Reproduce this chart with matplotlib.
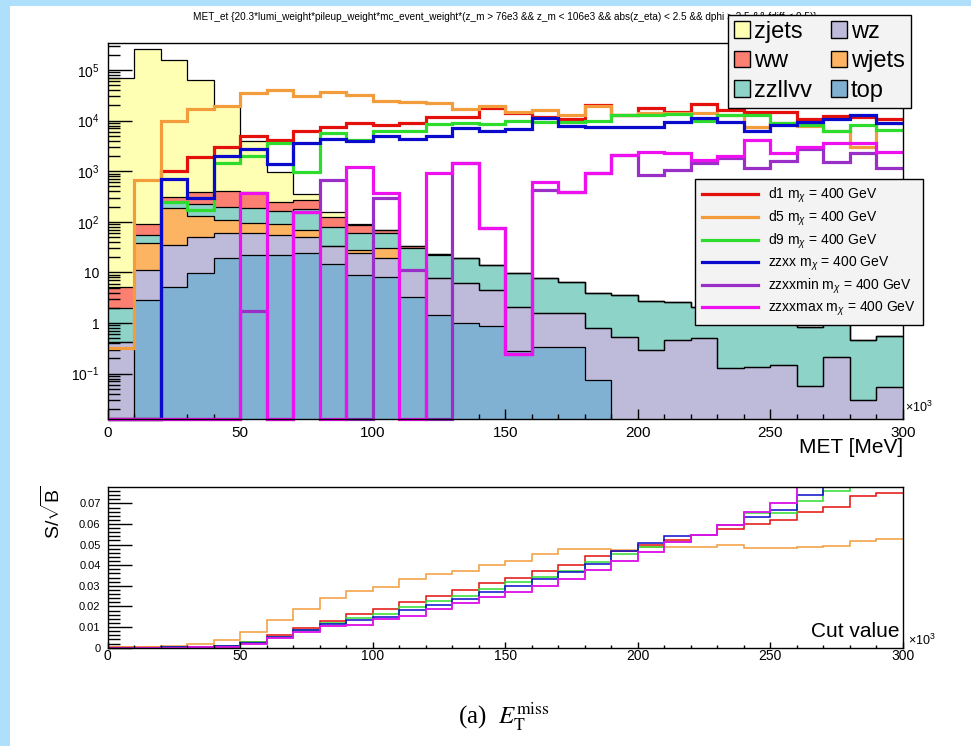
import numpy as np
import matplotlib
matplotlib.use("Agg")
import matplotlib.pyplot as plt
from matplotlib.patches import Patch, Rectangle
from matplotlib.lines import Line2D
from matplotlib.ticker import MultipleLocator, FixedLocator, NullFormatter, FuncFormatter

plt.rcParams["font.family"] = ["Liberation Sans", "DejaVu Sans"]
plt.rcParams["mathtext.fontset"] = "custom"
plt.rcParams["mathtext.rm"] = "Liberation Sans"
plt.rcParams["mathtext.it"] = "Liberation Sans:italic"
plt.rcParams["mathtext.bf"] = "Liberation Sans:bold"

# MET binning in units of 10^3 MeV
met_edges = np.arange(0, 301, 10)

# background yields per bin, stacking order from the bottom up
bkg_top = [0, 2.8, 5.2, 9.6, 19, 22, 22, 24, 15, 8.9, 8.2, 3.3, 1.44, 0.99, 0.87,
           0.28, 0.33, 0.33, 0.075, 0, 0, 0, 0, 0, 0, 0, 0, 0, 0, 0]
bkg_wz = [0.43, 8.2, 29.8, 41.4, 40, 37, 33, 27, 18, 15.1, 10.8, 7.7, 6.16, 5.1, 3.63,
          1.76, 1.22, 1.22, 0.715, 0.54, 0.30, 0.46, 0.50, 0.127, 0.137, 0.148, 0.057,
          0.21, 0.030, 0.054]
bkg_wjets = [0, 27, 150, 79, 49, 37, 35, 18, 0, 4, 11, 0, 0, 0, 0,
             0, 0, 0, 0, 0, 0, 0, 0, 0, 0, 0, 0, 0, 0, 0]
bkg_zzllvv = [1.52, 17, 65, 95, 87, 89, 70, 109, 47, 31, 29, 19, 14.4, 12.9, 9.5,
              7.86, 6.35, 4.95, 3.18, 3.03, 2.42, 2.14, 1.6, 1.37, 1.46, 1.15, 0.79,
              1.19, 0.43, 0.49]
bkg_ww = [3.25, 36, 65, 165, 215, 205, 90, 92, 42, 28, 10, 3.6, 1, 0.6, 0,
          0, 0, 0, 0, 0, 0, 0, 0, 0, 0, 0, 0, 0, 0, 0]
bkg_zjets = [70000, 260000, 160000, 62600, 18600, 3610, 730, 85, 36, 3, 0, 0, 0, 0, 0,
             0, 0, 0, 0, 0, 0, 0, 0, 0, 0, 0, 0, 0, 0, 0]

# signal yields per bin (m_chi = 400 GeV)
sig_d1 = [0, 0, 1000, 1870, 3000, 5000, 4200, 6100, 7500, 8900, 8100, 8900, 11800, 11800,
          18000, 14000, 11800, 11000, 20000, 12700, 18000, 15000, 21000, 16000, 14500,
          14500, 11000, 12500, 12000, 11000]
sig_d5 = [0.32, 670, 10000, 16700, 19400, 35000, 40000, 30000, 36000, 32000, 24500, 23600,
          22000, 16700, 19400, 15000, 16000, 12700, 19400, 12700, 14000, 14000, 14000,
          13000, 7600, 8900, 7800, 6100, 3000, 9000]
sig_d9 = [0, 0, 250, 170, 1430, 2000, 3600, 980, 5600, 4200, 6100, 6300, 8500, 9100, 8500,
          10000, 9500, 9500, 10000, 12700, 12700, 13500, 10000, 12700, 12700, 8900, 8200,
          6300, 8200, 6500]
sig_zzxx = [0, 0, 700, 300, 2000, 2700, 1370, 3600, 4400, 4000, 5000, 4300, 5000, 7300,
            6100, 6700, 11500, 7800, 7600, 7600, 7600, 9500, 11500, 9500, 6100, 8200, 9500,
            11000, 12700, 8900]
sig_zzxxmin = [0, 0, 0, 0, 0, 1.75, 0, 158, 670, 0, 290, 11, 0, 1430, 76, 0.24, 420, 390,
               910, 2100, 840, 1050, 1470, 1800, 1140, 1600, 2800, 1530, 2250, 1140]
sig_zzxxmax = [0, 0, 0, 0, 0, 375, 0, 158, 0, 1200, 375, 0, 910, 1430, 76, 0.24, 620, 390,
               910, 2100, 2400, 2300, 1660, 2000, 4200, 2250, 3050, 3600, 3600, 2400]

# S/sqrt(B) for a lower cut at each bin edge
sens_d1 = [0.0005, 0.0005, 0.0003, 0.0005, 0.001, 0.003, 0.006, 0.0097, 0.0128, 0.0162,
           0.019, 0.0222, 0.0252, 0.028, 0.0312, 0.0339, 0.0371, 0.0403, 0.0443, 0.0468,
           0.0496, 0.052, 0.0545, 0.0577, 0.0602, 0.0621, 0.0659, 0.0683, 0.0735, 0.0748]
sens_d5 = [0.0002, 0.0003, 0.0008, 0.0017, 0.0036, 0.0077, 0.0135, 0.019, 0.024, 0.0277,
           0.0293, 0.0334, 0.0358, 0.0374, 0.0399, 0.042, 0.0455, 0.048, 0.048, 0.0475,
           0.0488, 0.049, 0.0488, 0.0498, 0.0485, 0.0485, 0.049, 0.0493, 0.0517, 0.0525]
sens_d9 = [0, 0, 0.0002, 0.0004, 0.0009, 0.0027, 0.0052, 0.0088, 0.0118, 0.0143, 0.0163,
           0.0199, 0.0228, 0.0252, 0.0285, 0.0317, 0.0341, 0.0374, 0.0415, 0.0455, 0.0488,
           0.0512, 0.0545, 0.0593, 0.0654, 0.0654, 0.0712, 0.076, 0.085, 0.09]
sens_zzxx = [0, 0, 0.0002, 0.0004, 0.0009, 0.0025, 0.0052, 0.0086, 0.0116, 0.0134, 0.015,
             0.0184, 0.0208, 0.0236, 0.0268, 0.0301, 0.0334, 0.0366, 0.0407, 0.047, 0.0506,
             0.054, 0.0545, 0.0593, 0.0634, 0.067, 0.074, 0.085, 0.09, 0.095]
sens_zzxxmin = [0, 0, 0, 0.0002, 0.0005, 0.002, 0.0045, 0.0075, 0.0105, 0.011, 0.0138,
                0.0155, 0.0187, 0.0215, 0.0244, 0.0272, 0.0301, 0.0334, 0.0378, 0.042,
                0.0465, 0.0515, 0.0545, 0.0593, 0.066, 0.0702, 0.09, 0.095, 0.1, 0.1]
sens_zzxxmax = [0, 0, 0, 0.0002, 0.0005, 0.002, 0.0045, 0.0075, 0.0105, 0.011, 0.0138,
                0.0155, 0.0187, 0.0215, 0.0244, 0.0272, 0.0301, 0.0334, 0.0378, 0.042,
                0.0465, 0.0515, 0.0545, 0.0593, 0.066, 0.0702, 0.09, 0.095, 0.1, 0.1]

bkg_names = ["top", "wz", "wjets", "zzllvv", "ww", "zjets"]
bkg_colors = ["#80b1d3", "#bebada", "#fdb462", "#8dd3c7", "#fb8072", "#ffffb3"]
sig_names = ["d1", "d5", "d9", "zzxx", "zzxxmin", "zzxxmax"]
sig_colors = ["#e3100c", "#f39c3c", "#2edc2e", "#0a0acc", "#9a2fc8", "#ee10ee"]

W, H = 971, 746
fig = plt.figure(figsize=(W / 100, H / 100), dpi=100, facecolor="#aee0fb")
fig.patches.append(Rectangle((10 / W, 0), 1, 1 - 6 / H, transform=fig.transFigure,
                             facecolor="white", edgecolor="none", zorder=-10))


def px_box(x0, y0, x1, y1):
    # pixel box (top-left origin) -> figure fraction rect
    return [x0 / W, 1 - y1 / H, (x1 - x0) / W, (y1 - y0) / H]


ax = fig.add_axes(px_box(107.5, 43.3, 903, 419))
ax2 = fig.add_axes(px_box(107.5, 487.3, 903, 647.7))

ymin, ymax = 0.0127, 3.37e5
floor = 1e-3

# stacked backgrounds, drawn from the full stack down
stack = np.cumsum(np.array([bkg_top, bkg_wz, bkg_wjets, bkg_zzllvv, bkg_ww, bkg_zjets]), axis=0)
for i in range(len(bkg_names) - 1, -1, -1):
    level = np.maximum(stack[i], floor)
    ax.stairs(level, met_edges, baseline=floor, fill=True, color=bkg_colors[i], lw=0, zorder=1)
    ax.stairs(level, met_edges, baseline=None, color="black", lw=0.9, zorder=1.5)

signals = [sig_d1, sig_d5, sig_d9, sig_zzxx, sig_zzxxmin, sig_zzxxmax]
for vals, c in zip(signals, sig_colors):
    ax.stairs(np.maximum(vals, ymin), met_edges, baseline=None, color=c, lw=2.3, zorder=2,
              clip_on=False)

ax.set_yscale("log")
ax.set_xlim(0, 300)
ax.set_ylim(ymin, ymax)

ylabels = {1e5: "$10^{5}$", 1e4: "$10^{4}$", 1e3: "$10^{3}$", 1e2: "$10^{2}$",
           10: "10", 1: "1", 0.1: "$10^{-1}$"}
ax.yaxis.set_major_locator(FixedLocator(list(ylabels.keys())))
ax.yaxis.set_major_formatter(FuncFormatter(lambda v, p: ylabels.get(v, "")))
minors = [m * 10.0 ** e for e in range(-2, 6) for m in range(2, 10)]
ax.yaxis.set_minor_locator(FixedLocator(minors))
ax.yaxis.set_minor_formatter(NullFormatter())

for a in (ax, ax2):
    a.xaxis.set_major_locator(MultipleLocator(50))
    a.xaxis.set_minor_locator(MultipleLocator(10))
    a.tick_params(which="both", direction="in", top=False, right=False)
    for s in a.spines.values():
        s.set_linewidth(1.0)

ax.tick_params(axis="y", which="major", length=17, width=1, labelsize=10, pad=6)
ax.tick_params(axis="y", which="minor", length=8.5, width=1)
ax.tick_params(axis="x", which="major", length=7, width=1, labelsize=11, pad=5)
ax.tick_params(axis="x", which="minor", length=3.5, width=1)

ax.text(1.0, -0.077, "MET [MeV]", transform=ax.transAxes, ha="right", va="center", fontsize=15)
ax.text(1.003, 0.01, r"$\times10^{3}$", transform=ax.transAxes, ha="left", va="bottom", fontsize=9)
ax.text(0.5, 1.0 + (43.3 - 17) / 375.7,
        "MET_et {20.3*lumi_weight*pileup_weight*mc_event_weight*(z_m > 76e3 && z_m < 106e3 "
        "&& abs(z_eta) < 2.5 && dphi > 2.5 && fdiff < 0.5)}",
        transform=ax.transAxes, ha="center", va="center", fontsize=7.2, zorder=3, clip_on=False)

# background legend
bkg_order = [5, 4, 3, 1, 2, 0]
bkg_handles = [Patch(facecolor=bkg_colors[i], edgecolor="black", lw=1) for i in bkg_order]
leg1 = ax.legend(bkg_handles, [bkg_names[i] for i in bkg_order], ncol=2, fontsize=17,
                 loc="upper left", bbox_to_anchor=(728 / W, 1 - 15 / H),
                 bbox_transform=fig.transFigure, frameon=True, fancybox=False,
                 edgecolor="black", facecolor="#f3f3f3", framealpha=1,
                 handlelength=0.7, handleheight=0.7, handletextpad=0.15,
                 columnspacing=0.8, labelspacing=0.32, borderpad=0.25, borderaxespad=0)
leg1.get_frame().set_linewidth(1.0)
ax.add_artist(leg1)

sig_handles = [Line2D([], [], color=c, lw=2.3) for c in sig_colors]
sig_labels = [n + r" m$_{\chi}$ = 400 GeV" for n in sig_names]
leg2 = ax.legend(sig_handles, sig_labels, fontsize=10, loc="upper left",
                 bbox_to_anchor=(695 / W, 1 - 179 / H), bbox_transform=fig.transFigure,
                 frameon=True, fancybox=False, edgecolor="black", facecolor="#f3f3f3",
                 framealpha=1, handlelength=4.0, handletextpad=0.75, labelspacing=0.27,
                 borderpad=0.5, borderaxespad=0)
leg2.get_frame().set_linewidth(1.0)

# lower panel: S/sqrt(B) against the cut value
sens = [sens_d1, sens_d5, sens_d9, sens_zzxx, sens_zzxxmin, sens_zzxxmax]
for vals, c in zip(sens, sig_colors):
    ax2.stairs(vals, met_edges, baseline=None, color=c, lw=1.1)

ax2.set_xlim(0, 300)
ax2.set_ylim(0, 0.0778)
ax2.yaxis.set_major_locator(MultipleLocator(0.01))
ax2.yaxis.set_minor_locator(MultipleLocator(0.002))
ax2.yaxis.set_major_formatter(FuncFormatter(lambda v, p: "0" if abs(v) < 1e-9 else f"{v:.2f}"))
ax2.tick_params(axis="y", which="major", length=17, width=1, labelsize=8, pad=5)
ax2.tick_params(axis="y", which="minor", length=8.5, width=1)
ax2.tick_params(axis="x", which="major", length=4, width=1, labelsize=10, pad=1)
ax2.tick_params(axis="x", which="minor", length=2, width=1)

ax2.text(0.996, 0.098, "Cut value", transform=ax2.transAxes, ha="right", va="center", fontsize=15)
ax2.text(1.006, 0.0, r"$\times10^{3}$", transform=ax2.transAxes, ha="left", va="bottom", fontsize=9)
fig.text(52 / W, 1 - 512 / H, r"S/$\sqrt{\mathrm{B}}$", rotation=90, ha="center", va="center",
         fontsize=14)

fig.text(504 / W, 1 - 716 / H, r"(a)  $E_{\mathrm{T}}^{\mathrm{miss}}$", ha="center", va="center",
         fontsize=18, family="Liberation Serif", math_fontfamily="stix")

fig.savefig("out.png", dpi=100, facecolor=fig.get_facecolor())
